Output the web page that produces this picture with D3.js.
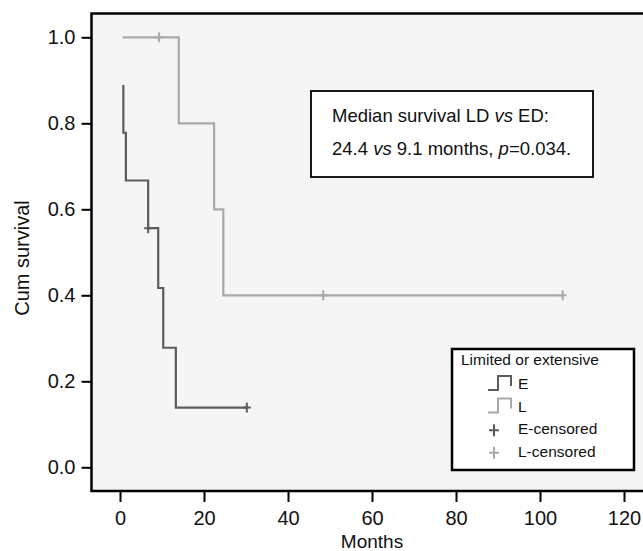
<!DOCTYPE html>
<html>
<head>
<meta charset="utf-8">
<script src="https://d3js.org/d3.v7.min.js"></script>
<style>
  body { margin: 0; background: #fff; }
  svg text { font-family: "Liberation Sans", Arial, Helvetica, sans-serif; fill: #111; }
</style>
</head>
<body>
<div class="viz"></div>
<script type="text/javascript">

  // axis ticks
  var monthTicks = [0, 20, 40, 60, 80, 100, 120];
  var survTicks = [0, 0.2, 0.4, 0.6, 0.8, 1.0];

  // E group (extensive disease): step points (time, survival after)
  var eTimes = [0.8, 0.8, 1.4, 6.7, 9.1, 10.3, 13.3, 30.2];
  var eSurv  = [0.889, 0.778, 0.667, 0.556, 0.417, 0.278, 0.139, 0.139];
  var eCensorTimes = [6.7, 30.2];
  var eCensorSurv  = [0.556, 0.139];

  // L group (limited disease)
  var lTimes = [0.6, 14.0, 22.4, 24.6, 105.4];
  var lSurv  = [1.0, 0.8, 0.6, 0.4, 0.4];
  var lCensorTimes = [9.3, 48.4, 105.4];
  var lCensorSurv  = [1.0, 0.4, 0.4];

  var legendLabels = ['E', 'L', 'E-censored', 'L-censored'];

  var eColor = '#5c5c5c', lColor = '#a9a9a9';

  var W = 643, H = 551;
  var svg = d3.select('.viz').append('svg')
      .attr('width', W).attr('height', H);

  var x = d3.scaleLinear().domain([0, 120]).range([120, 624]);
  var y = d3.scaleLinear().domain([0, 1]).range([467.3, 37.3]);

  // plot area frame (runs off the right edge like the original)
  svg.append('rect')
      .attr('x', 91.5).attr('y', 13.5)
      .attr('width', 600).attr('height', 477.5)
      .style('fill', '#f5f5f5')
      .style('stroke', '#000')
      .style('stroke-width', 2.5);

  // axes
  var yAxis = d3.axisLeft(y).tickValues(survTicks).tickSize(10).tickPadding(6)
      .tickFormat(d3.format('.1f'));
  var gy = svg.append('g').attr('transform', 'translate(91.5,0)').call(yAxis);
  gy.select('.domain').remove();

  var xAxis = d3.axisBottom(x).tickValues(monthTicks).tickSize(11).tickPadding(9)
      .tickFormat(d3.format('d'));
  var gx = svg.append('g').attr('transform', 'translate(0,491)').call(xAxis);
  gx.select('.domain').remove();

  svg.selectAll('.tick line').style('stroke', '#000').style('stroke-width', 2);
  svg.selectAll('.tick text').style('font-size', '20px').style('fill', '#111')
      .style('font-family', '"Liberation Sans", Arial, sans-serif');

  svg.append('text')
      .attr('transform', 'translate(29,258) rotate(-90)')
      .attr('text-anchor', 'middle')
      .style('font-size', '20px')
      .text('Cum survival');

  svg.append('text')
      .attr('x', x(60)).attr('y', 548)
      .attr('text-anchor', 'middle')
      .style('font-size', '19px')
      .text('Months');

  // survival curves
  var line = d3.line()
      .x(function(d) { return x(d[0]); })
      .y(function(d) { return y(d[1]); })
      .curve(d3.curveStepAfter);

  function drawGroup(times, surv, cTimes, cSurv, color) {
    var pts = times.map(function(t, i) { return [t, surv[i]]; });
    svg.append('path')
        .datum(pts)
        .attr('d', line)
        .style('fill', 'none')
        .style('stroke', color)
        .style('stroke-width', 2.2);

    var cpts = cTimes.map(function(t, i) { return [t, cSurv[i]]; });
    var marks = svg.append('g');
    marks.selectAll('line.v').data(cpts).enter().append('line')
        .attr('x1', function(d) { return x(d[0]); })
        .attr('x2', function(d) { return x(d[0]); })
        .attr('y1', function(d) { return y(d[1]) - 5; })
        .attr('y2', function(d) { return y(d[1]) + 5; })
        .style('stroke', color).style('stroke-width', 2);
    marks.selectAll('line.h').data(cpts).enter().append('line')
        .attr('x1', function(d) { return x(d[0]) - 4; })
        .attr('x2', function(d) { return x(d[0]) + 4; })
        .attr('y1', function(d) { return y(d[1]); })
        .attr('y2', function(d) { return y(d[1]); })
        .style('stroke', color).style('stroke-width', 2);
  }

  drawGroup(lTimes, lSurv, lCensorTimes, lCensorSurv, lColor);
  drawGroup(eTimes, eSurv, eCensorTimes, eCensorSurv, eColor);

  // median annotation box
  var note = svg.append('g');
  note.append('rect')
      .attr('x', 311).attr('y', 91)
      .attr('width', 282).attr('height', 86)
      .style('fill', '#fff').style('stroke', '#000').style('stroke-width', 1.8);
  var t1 = note.append('text').attr('x', 332).attr('y', 122).style('font-size', '18.5px');
  t1.append('tspan').text('Median survival LD ');
  t1.append('tspan').style('font-style', 'italic').text('vs');
  t1.append('tspan').text(' ED:');
  var t2 = note.append('text').attr('x', 332).attr('y', 155).style('font-size', '18.5px');
  t2.append('tspan').text('24.4 ');
  t2.append('tspan').style('font-style', 'italic').text('vs');
  t2.append('tspan').text(' 9.1 months, ');
  t2.append('tspan').style('font-style', 'italic').text('p');
  t2.append('tspan').text('=0.034.');

  // legend
  var lg = svg.append('g').attr('transform', 'translate(452,349)');
  lg.append('rect')
      .attr('width', 182).attr('height', 121)
      .style('fill', '#fff').style('stroke', '#000').style('stroke-width', 2.5);
  lg.append('text').attr('x', 9).attr('y', 16).style('font-size', '15.5px')
      .text('Limited or extensive');

  var rowY = function(i) { return 40 + i * 22.6; };
  var legColors = [eColor, lColor, eColor, lColor];

  var rows = lg.selectAll('g.row').data(legendLabels).enter().append('g')
      .attr('transform', function(d, i) { return 'translate(0,' + rowY(i) + ')'; });

  rows.append('text').attr('x', 66).attr('y', 0)
      .style('font-size', '15.5px')
      .text(function(d) { return d; });

  rows.filter(function(d, i) { return i < 2; }).append('path')
      .attr('d', 'M36,1H46V-13H59V-3')
      .style('fill', 'none')
      .style('stroke', function(d, i) { return legColors[i]; })
      .style('stroke-width', 2);

  rows.filter(function(d, i) { return i >= 2; }).append('path')
      .attr('d', 'M42,-10V2M37,-4H47')
      .style('fill', 'none')
      .style('stroke', function(d, i) { return legColors[i + 2]; })
      .style('stroke-width', 2);

</script>
</body>
</html>
